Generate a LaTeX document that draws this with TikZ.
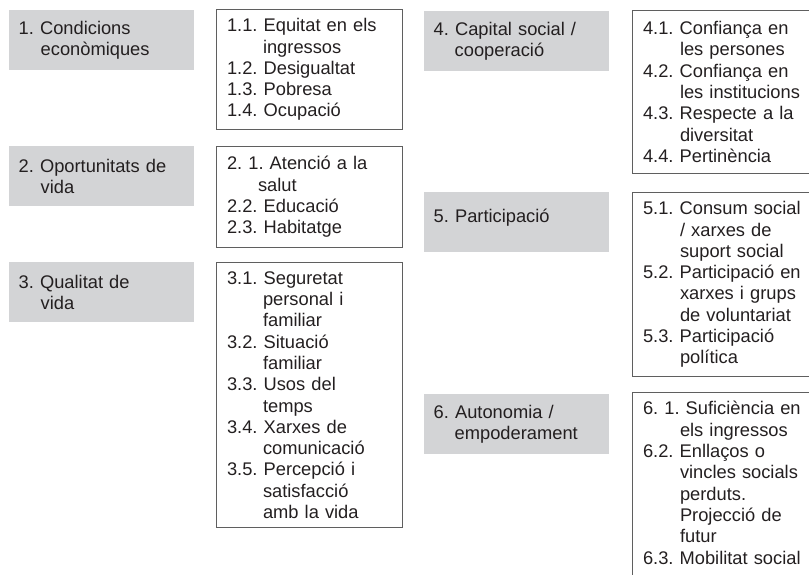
\documentclass[tikz,border=0pt]{standalone}
\usepackage{fontspec}
\setmainfont{Liberation Sans}
\frenchspacing
\definecolor{catfill}{RGB}{211,212,214}
\definecolor{boxline}{RGB}{95,95,95}
\definecolor{ink}{RGB}{35,31,32}
\newcommand{\boxfont}{\fontsize{18.3}{21.3}\selectfont}
\newcommand{\hng}[1]{\hangindent=#1\hangafter=1 }
\tikzset{
  cat/.style={anchor=north west, fill=catfill, text=ink, font=\boxfont,
    minimum height=60pt, inner xsep=9.5pt, inner ysep=0pt,
    text width=166pt, align=left},
  sub/.style={anchor=north west, draw=boxline, line width=1pt, text=ink,
    font=\boxfont, inner xsep=10.5pt, inner ysep=9pt,
    text width=165pt, align=left}
}
\begin{document}
\begin{tikzpicture}[x=1pt,y=-1pt]
    \clip (0,0) rectangle (809,574);
    % main dimensions
    \path (9,10) node [cat] (c1) {\hng{22pt}1. Condicions\newline econòmiques\par};
    \path (9,146) node [cat] (c2) {\hng{22pt}2. Oportunitats de\newline vida\par};
    \path (9,262) node [cat] (c3) {\hng{22pt}3. Qualitat de\newline vida\par};
    \path (424,11) node [cat] (c4) {\hng{21pt}4. Capital social /\newline cooperació\par};
    \path (424,192) node [cat, text depth=13pt] (c5) {5. Participació};
    \path (424,394) node [cat] (c6) {\hng{21pt}6. Autonomia /\newline empoderament\par};

    % sub-dimensions
    \path (216,9) node [sub] (s1) {\hng{36pt}1.1. Equitat en els\newline ingressos\par
        1.2. Desigualtat\par
        1.3. Pobresa\par
        1.4. Ocupació};
    \path (216,146) node [sub, minimum height=101pt] (s2) {\hng{31pt}2. 1. Atenció a la\newline salut\par
        2.2. Educació\par
        2.3. Habitatge};
    \path (216,262) node [sub] (s3) {\hng{36pt}3.1. Seguretat\newline personal i\newline familiar\par
        \hng{36pt}3.2. Situació\newline familiar\par
        \hng{36pt}3.3. Usos del\newline temps\par
        \hng{36pt}3.4. Xarxes de\newline comunicació\par
        \hng{36pt}3.5. Percepció i\newline satisfacció\newline amb la vida\par};
    \path (632,10) node [sub, minimum height=163pt] (s4) {\hng{37pt}4.1. Confiança en\newline les persones\par
        \hng{37pt}4.2. Confiança en\newline les institucions\par
        \hng{37pt}4.3. Respecte a la\newline diversitat\par
        4.4. Pertinència};
    \path (632,192) node [sub] (s5) {\hng{37pt}5.1. Consum social\newline / xarxes de\newline suport social\par
        \hng{37pt}5.2. Participació en\newline xarxes i grups\newline de voluntariat\par
        \hng{37pt}5.3. Participació\newline política\par};
    \path (632,392) node [sub, text depth=160pt] (s6) {\hng{37pt}6. 1. Suficiència en\newline els ingressos\par
        \hng{37pt}6.2. Enllaços o\newline vincles socials\newline perduts.\newline Projecció de\newline futur\par
        6.3. Mobilitat social};
\end{tikzpicture}
\end{document}
